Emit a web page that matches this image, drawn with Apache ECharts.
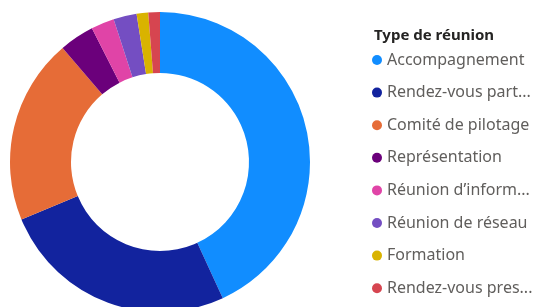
<!DOCTYPE html>
<html>
<head>
<meta charset="utf-8">
<script src="https://cdn.jsdelivr.net/npm/echarts@6/dist/echarts.min.js"></script>
<style>
  html, body { margin: 0; padding: 0; background: #fff; }
  #chart { width: 535px; height: 307px; }
</style>
</head>
<body>
<div id="chart"></div>
<script>
// catégories et valeurs
const categories = [
  'Accompagnement',
  'Rendez-vous part...',
  'Comité de pilotage',
  'Représentation',
  'Réunion d\u2019inform...',
  'Réunion de réseau',
  'Formation',
  'Rendez-vous pres...'
]
const values = [69, 41, 32, 6, 4, 4, 2, 2]
const colors = ['#118DFF', '#12239E', '#E66C37', '#6B007B', '#E044A7', '#744EC2', '#D9B300', '#D64550']

const chart = echarts.init(document.getElementById('chart'))

const seriesData = categories.map((name, i) => {
  return { name: name, value: values[i], itemStyle: { color: colors[i] } }
})

chart.setOption({
  animation: false,
  title: {
    text: 'Type de réunion',
    left: 369,
    top: 23,
    textStyle: {
      fontFamily: 'Noto Sans',
      fontSize: 15,
      fontWeight: 'bold',
      color: '#252423'
    }
  },
  legend: {
    orient: 'vertical',
    left: 372,
    top: 52,
    padding: 0,
    icon: 'circle',
    itemWidth: 10,
    itemHeight: 10,
    itemGap: 16.6,
    textStyle: {
      fontFamily: 'Noto Sans',
      fontSize: 16,
      color: '#605E5C',
      lineHeight: 16
    },
    data: categories
  },
  series: [
    {
      type: 'pie',
      center: [160, 162],
      radius: [89, 150],
      startAngle: 90,
      clockwise: true,
      label: { show: false },
      labelLine: { show: false },
      data: seriesData
    }
  ]
})
</script>
</body>
</html>
